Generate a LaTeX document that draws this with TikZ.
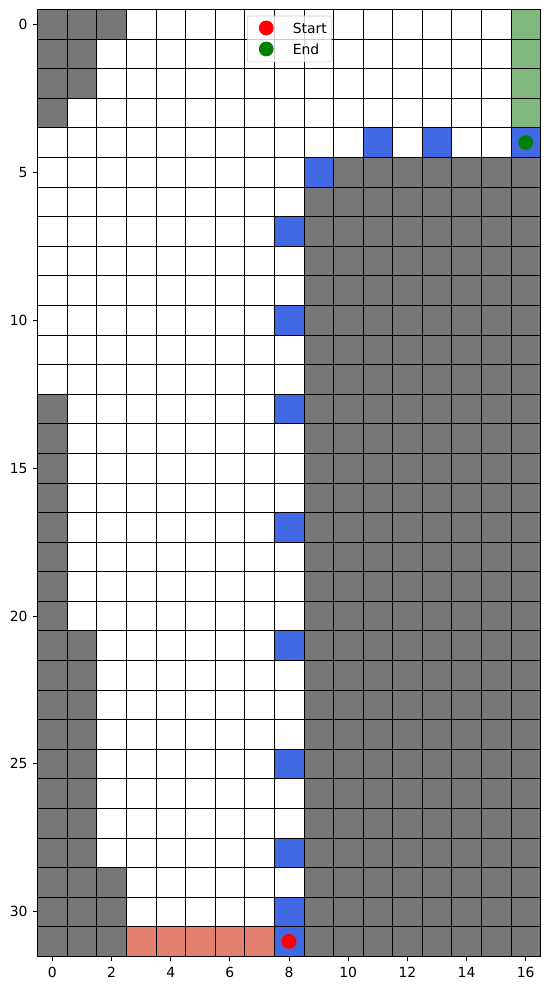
\documentclass[tikz,border=0pt]{standalone}
\usepackage{fontspec}
\setmainfont{DejaVu Sans}
\definecolor{wall}{HTML}{777777}
\definecolor{pathblue}{HTML}{4169E1}
\definecolor{goal}{HTML}{80B880}
\definecolor{startc}{HTML}{E3806F}
\newcommand\cellfill[3]{\fill[#3] ({#1-0.5},{-#2-0.5}) rectangle ({#1+0.5},{-#2+0.5});}
\tikzset{
  gridline/.style={black, line width=0.6pt},
  frame/.style={black, line width=0.8pt},
  tickmark/.style={black, line width=0.8pt},
  ticklabel/.style={inner sep=0pt},
}
\begin{document}
\begin{tikzpicture}[x=1cm,y=1cm,font=\fontsize{13.4}{16}\selectfont]
\useasboundingbox (-1.77,0.82) rectangle (16.84,-32.61);
% walls
\fill[wall] (-0.5,0.5) rectangle (2.5,-0.5);
\fill[wall] (-0.5,-0.5) rectangle (1.5,-2.5);
\fill[wall] (-0.5,-2.5) rectangle (0.5,-3.5);
\fill[wall] (-0.5,-12.5) rectangle (0.5,-20.5);
\fill[wall] (-0.5,-20.5) rectangle (1.5,-28.5);
\fill[wall] (-0.5,-28.5) rectangle (2.5,-31.5);
\fill[wall] (9.5,-4.5) rectangle (16.5,-5.5);
\fill[wall] (8.5,-5.5) rectangle (16.5,-31.5);
% goal column and start row
\fill[goal] (15.5,0.5) rectangle (16.5,-3.5);
\fill[startc] (2.5,-30.5) rectangle (7.5,-31.5);
% path cells
\foreach \c/\r in {11/4,13/4,16/4,9/5,8/7,8/10,8/13,8/17,8/21,8/25,8/28,8/30,8/31}
  {\cellfill{\c}{\r}{pathblue}}
% grid
\foreach \x in {-0.5,0.5,...,16.5} \draw[gridline] (\x,0.5) -- (\x,-31.5);
\foreach \y in {0.5,-0.5,...,-31.5} \draw[gridline] (-0.5,\y) -- (16.5,\y);
\draw[frame] (-0.5,0.5) rectangle (16.5,-31.5);
% ticks
\foreach \c in {0,2,...,16} {
  \draw[tickmark] (\c,-31.5) -- (\c,-31.666);
  \node[ticklabel,anchor=north] (xt\c) at (\c,-31.86) {\c};
}
\foreach \r in {0,5,...,30} {
  \draw[tickmark] (-0.5,-\r) -- (-0.666,-\r);
  \node[ticklabel,anchor=east] (yt\r) at (-0.83,-\r) {\r};
}
% start / end markers
\fill[red] (8,-31) circle (0.25);
\fill[green!50!black] (16,-4) circle (0.25);
% legend
\draw[draw=black!20, fill=white, fill opacity=0.8, rounded corners=2pt, line width=0.6pt] (6.59,0.28) rectangle (9.43,-1.27);
\fill[red] (7.23,-0.125) circle (0.25);
\fill[green!50!black] (7.23,-0.835) circle (0.25);
\node[ticklabel,anchor=west] (lgs) at (8.12,-0.125) {Start};
\node[ticklabel,anchor=west] (lge) at (8.12,-0.835) {End};
\end{tikzpicture}
\end{document}
